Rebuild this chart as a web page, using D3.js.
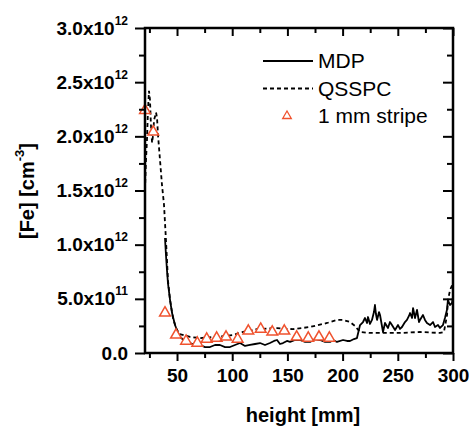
<!DOCTYPE html>
<html>
<head>
<meta charset="utf-8">
<script src="https://cdn.jsdelivr.net/npm/d3@7"></script>
<style>
body { margin: 0; background: #fff; }
svg { font-family: "Liberation Sans", Arial, sans-serif; }
</style>
</head>
<body>
<div id="chart"></div>
<script>
// values in units of 1e12 cm^-3, heights in mm
var mdpX = [39.1, 40.0, 40.9, 41.8, 43.7, 45.5, 48.2, 50.9, 52.7, 57.2, 61.8, 66.3, 70.8, 75.4, 79.9, 84.4,
    88.9, 93.5, 98.0, 102.5, 107.1, 111.6, 116.1, 120.7, 125.2, 129.7, 134.2, 137.9, 140.6, 143.3, 146.0,
    149.6, 152.4, 156.9, 161.4, 166.0, 170.5, 175.0, 179.5, 184.1, 188.6, 191.3, 194.9, 200.4, 204.0, 206.7,
    210.3, 213.0, 215.8, 218.5, 220.3, 222.1, 223.0, 224.8, 226.6, 228.4, 229.3, 230.2, 231.2, 233.0, 233.9,
    236.6, 238.4, 241.1, 242.9, 244.7, 247.5, 250.2, 252.0, 253.8, 256.5, 258.3, 260.1, 261.1, 262.9, 263.8,
    265.6, 267.4, 269.2, 270.1, 272.8, 274.6, 276.4, 279.2, 281.9, 283.7, 286.4, 288.2, 290.9, 292.7, 294.5,
    295.4, 297.3, 299.1, 300.0];
var mdpY = [1.062, 0.905, 0.766, 0.646, 0.489, 0.369, 0.258, 0.185, 0.148, 0.111, 0.092, 0.074, 0.074, 0.055, 0.055, 0.074,
    0.074, 0.055, 0.055, 0.074, 0.092, 0.065, 0.074, 0.083, 0.092, 0.074, 0.092, 0.111, 0.120, 0.083, 0.092,
    0.111, 0.102, 0.120, 0.120, 0.102, 0.102, 0.129, 0.120, 0.102, 0.102, 0.120, 0.102, 0.120, 0.111, 0.111,
    0.129, 0.138, 0.258, 0.286, 0.323, 0.277, 0.332, 0.268, 0.305, 0.378, 0.443, 0.360, 0.305, 0.378, 0.351,
    0.194, 0.277, 0.231, 0.286, 0.258, 0.212, 0.258, 0.222, 0.240, 0.286, 0.305, 0.342, 0.369, 0.323, 0.415,
    0.323, 0.397, 0.286, 0.305, 0.351, 0.305, 0.277, 0.258, 0.286, 0.240, 0.258, 0.231, 0.258, 0.323, 0.397,
    0.489, 0.443, 0.462, 0.517];

var qsspcX = [21.0, 21.9, 22.8, 23.7, 24.6, 25.5, 26.4, 27.4, 28.3, 29.2, 31.0, 31.9, 32.8, 34.6, 36.4, 38.2,
    40.0, 40.9, 41.8, 43.7, 46.4, 49.1, 52.3, 61.8, 70.8, 84.4, 100.7, 109.8, 122.5, 140.6, 155.1, 170.5,
    185.9, 194.9, 200.4, 206.7, 211.2, 215.7, 224.8, 233.9, 252.0, 270.1, 288.2, 291.8, 294.6, 295.5, 297.3, 300.0];
var qsspcY = [1.505, 1.78, 1.97, 2.24, 2.42, 2.34, 2.10, 1.94, 2.01, 2.15, 2.22, 2.17, 2.01, 1.78, 1.55, 1.37,
    1.04, 0.86, 0.67, 0.49, 0.32, 0.23, 0.175, 0.148, 0.138, 0.148, 0.166, 0.194, 0.22, 0.23, 0.22, 0.24,
    0.277, 0.305, 0.305, 0.286, 0.25, 0.194, 0.185, 0.185, 0.185, 0.194, 0.185, 0.194, 0.35, 0.49, 0.58, 0.646];

var stripeX = [21.0, 28.5, 39.1, 49.1, 58.2, 68.4, 76.9, 85.9, 94.4, 104.9, 114.6, 125.8, 136.3, 147.2, 158.4, 168.9, 178.6, 188.0];
var stripeY = [2.24, 2.04, 0.37, 0.166, 0.11, 0.092, 0.129, 0.138, 0.148, 0.129, 0.203, 0.22, 0.194, 0.203, 0.148, 0.138, 0.148, 0.138];

var legendLabels = ["MDP", "QSSPC", "1 mm stripe"];

var xMajor = [50, 100, 150, 200, 250, 300];
var xMinor = [25, 75, 125, 175, 225, 275];
var xTickLabels = ["50", "100", "150", "200", "250", "300"];

var yMajor = [0, 0.5, 1.0, 1.5, 2.0, 2.5, 3.0];
var yMinor = [0.25, 0.75, 1.25, 1.75, 2.25, 2.75];
var yTickMant = ["0.0", "5.0x10", "1.0x10", "1.5x10", "2.0x10", "2.5x10", "3.0x10"];
var yTickExp = ["", "11", "12", "12", "12", "12", "12"];

var svgWidth = 471;
var svgHeight = 427;
var margin = {top: 28, right: 18, bottom: 74, left: 145};
var width = svgWidth - margin.left - margin.right;
var height = svgHeight - margin.top - margin.bottom;
var red = "#f0522e";

var svg = d3.select("#chart").append("svg")
    .attr("width", svgWidth)
    .attr("height", svgHeight);

var chart = svg.append("g")
    .attr("transform", `translate(${margin.left}, ${margin.top})`);

var x = d3.scaleLinear().domain([21, 300]).range([0, width]);
var y = d3.scaleLinear().domain([0, 3]).range([height, 0]);

var line = d3.line()
    .x(d => x(d[0]))
    .y(d => y(d[1]));

var mdp = mdpX.map((v, i) => [v, mdpY[i]]);
var qsspc = qsspcX.map((v, i) => [v, qsspcY[i]]);
var stripe = stripeX.map((v, i) => [v, stripeY[i]]);

chart.append("path")
    .datum(qsspc)
    .attr("d", line)
    .attr("fill", "none")
    .attr("stroke", "#000")
    .attr("stroke-width", 1.8)
    .attr("stroke-dasharray", "4,3");

chart.append("path")
    .datum(mdp)
    .attr("d", line)
    .attr("fill", "none")
    .attr("stroke", "#000")
    .attr("stroke-width", 1.8)
    .attr("stroke-linejoin", "round");

var tri = d3.symbol().type(d3.symbolTriangle).size(50);

chart.selectAll(".stripe")
    .data(stripe)
    .enter()
    .append("path")
    .attr("class", "stripe")
    .attr("d", tri)
    .attr("transform", d => `translate(${x(d[0])}, ${y(d[1])})`)
    .attr("fill", "#fff")
    .attr("stroke", red)
    .attr("stroke-width", 1.5);

// axes: outward ticks bottom/left, inward ticks top/right
function styleAxis(g) {
    g.select(".domain").remove();
    g.selectAll(".tick line").attr("stroke", "#000").attr("stroke-width", 2);
}

var bottomMajor = chart.append("g")
    .attr("transform", `translate(0, ${height})`)
    .call(d3.axisBottom(x).tickValues(xMajor).tickSize(8).tickFormat((d, i) => xTickLabels[i]))
    .call(styleAxis);
bottomMajor.selectAll(".tick text")
    .attr("y", 29)
    .attr("dy", 0)
    .style("font-size", "19px")
    .style("font-weight", "bold")
    .attr("fill", "#000");

chart.append("g")
    .attr("transform", `translate(0, ${height})`)
    .call(d3.axisBottom(x).tickValues(xMinor).tickSize(5).tickFormat(""))
    .call(styleAxis);

chart.append("g")
    .call(d3.axisBottom(x).tickValues(xMajor).tickSize(8).tickFormat(""))
    .call(styleAxis);
chart.append("g")
    .call(d3.axisBottom(x).tickValues(xMinor).tickSize(5).tickFormat(""))
    .call(styleAxis);

var leftMajor = chart.append("g")
    .call(d3.axisLeft(y).tickValues(yMajor).tickSize(10).tickFormat(""))
    .call(styleAxis);
chart.append("g")
    .call(d3.axisLeft(y).tickValues(yMinor).tickSize(6).tickFormat(""))
    .call(styleAxis);

leftMajor.selectAll(".tick").each(function(d, i) {
    var t = d3.select(this).append("text")
        .attr("x", -17)
        .attr("y", 6)
        .attr("text-anchor", "end")
        .attr("fill", "#000")
        .style("font-size", "19px")
        .style("font-weight", "bold");
    t.append("tspan").text(yTickMant[i]);
    if (yTickExp[i]) {
        t.append("tspan")
            .attr("dy", -10)
            .style("font-size", "12px")
            .text(yTickExp[i]);
    }
});

chart.append("g")
    .attr("transform", `translate(${width}, 0)`)
    .call(d3.axisLeft(y).tickValues(yMajor).tickSize(10).tickFormat(""))
    .call(styleAxis);
chart.append("g")
    .attr("transform", `translate(${width}, 0)`)
    .call(d3.axisLeft(y).tickValues(yMinor).tickSize(6).tickFormat(""))
    .call(styleAxis);

chart.append("rect")
    .attr("width", width)
    .attr("height", height)
    .attr("fill", "none")
    .attr("stroke", "#000")
    .attr("stroke-width", 2.5);

// legend
var legend = chart.append("g")
    .attr("transform", "translate(118, 33)");

legendLabels.forEach(function(label, i) {
    var row = legend.append("g").attr("transform", `translate(0, ${i * 27.5})`);
    if (i < 2) {
        row.append("line")
            .attr("x1", 0).attr("x2", 50)
            .attr("stroke", "#000")
            .attr("stroke-width", 1.8)
            .attr("stroke-dasharray", i == 1 ? "4,3" : null);
    } else {
        row.append("path")
            .attr("d", d3.symbol().type(d3.symbolTriangle).size(32))
            .attr("transform", "translate(24, 0)")
            .attr("fill", "#fff")
            .attr("stroke", red)
            .attr("stroke-width", 1.3);
    }
    row.append("text")
        .attr("x", 55)
        .attr("y", 7)
        .style("font-size", "21px")
        .text(label);
});

// axis titles
chart.append("text")
    .attr("x", 158)
    .attr("y", 394)
    .attr("text-anchor", "middle")
    .style("font-size", "20px")
    .style("font-weight", "bold")
    .text("height [mm]");

var yTitle = svg.append("text")
    .attr("transform", "translate(34, 191) rotate(-90)")
    .attr("text-anchor", "middle")
    .style("font-size", "20px")
    .style("font-weight", "bold");
yTitle.append("tspan").text("[Fe] [cm");
yTitle.append("tspan").attr("dy", -10).style("font-size", "13px").text("-3");
yTitle.append("tspan").attr("dy", 10).text("]");
</script>
</body>
</html>
